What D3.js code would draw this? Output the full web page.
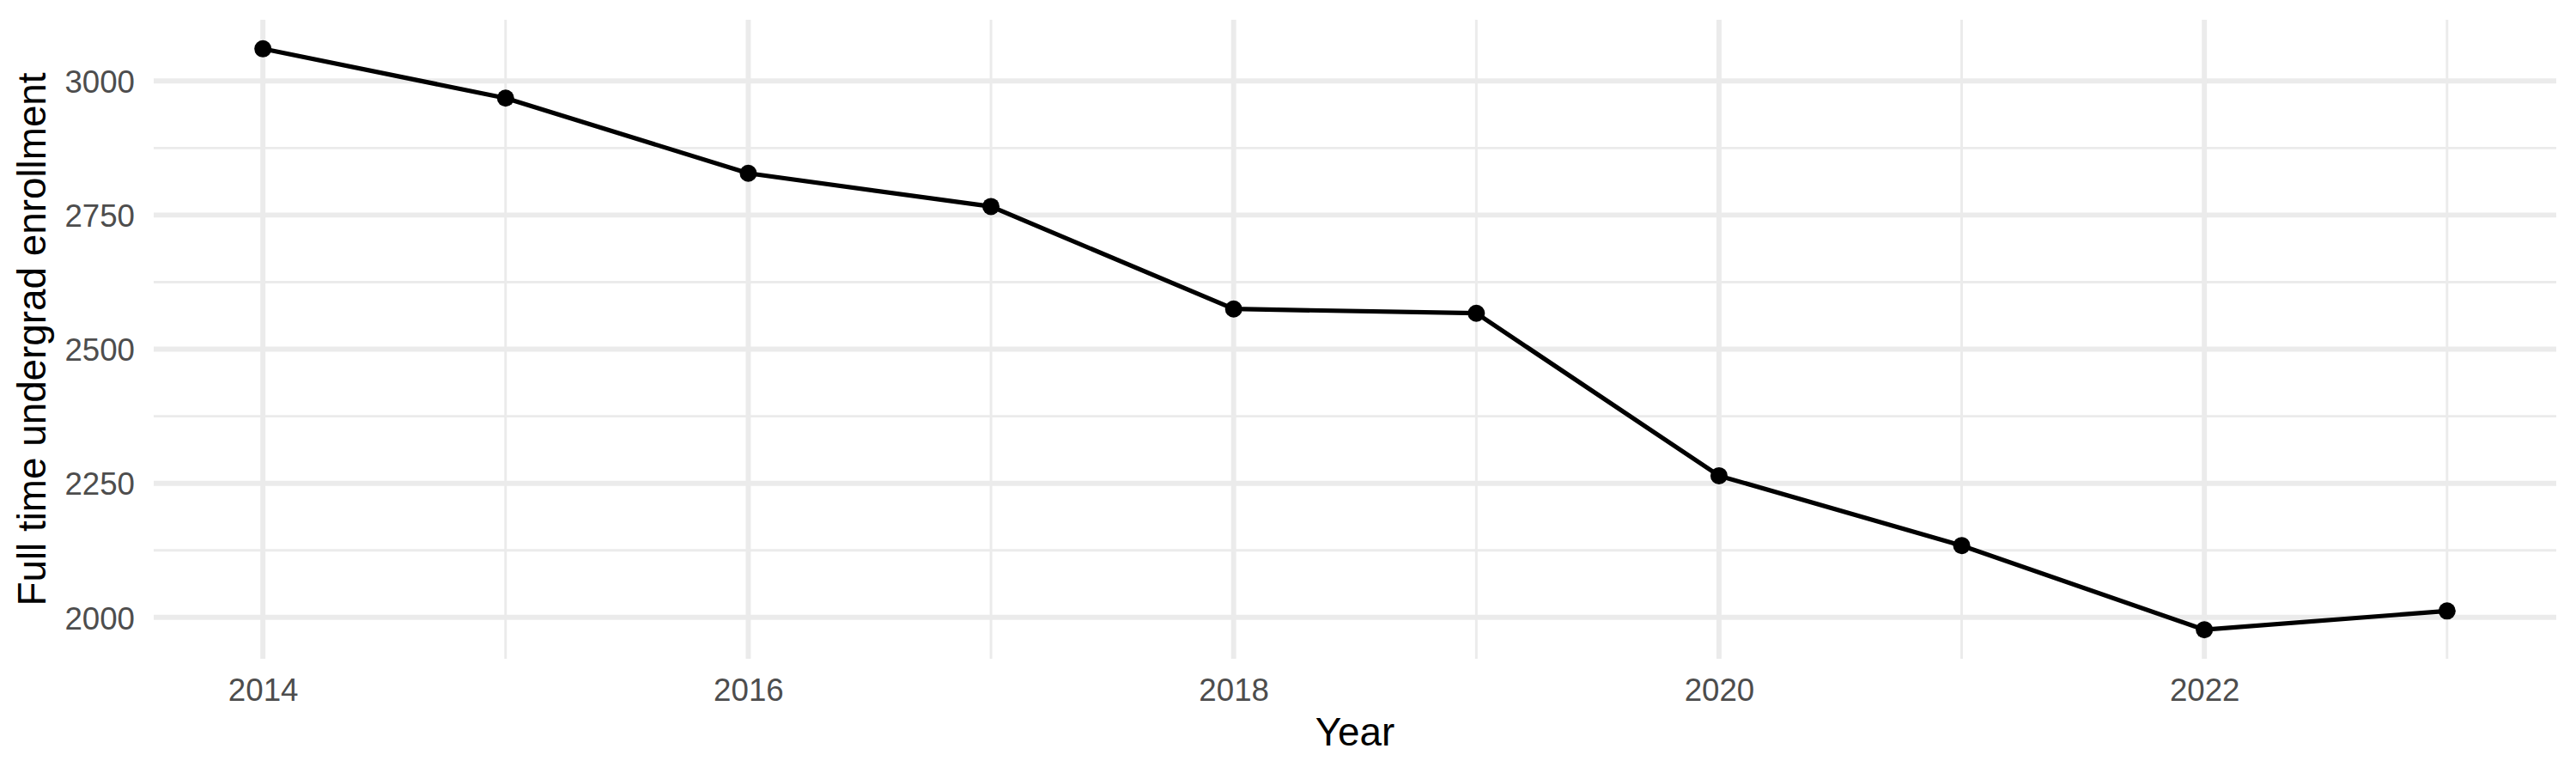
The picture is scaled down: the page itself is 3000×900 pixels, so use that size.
<!DOCTYPE html>
<html>
<head>
<meta charset="utf-8">
<script src="https://cdn.jsdelivr.net/npm/d3@7"></script>
<style>
  html, body { margin: 0; padding: 0; background: #ffffff; }
  svg { display: block; }
  text { font-family: "Liberation Sans", Arial, Helvetica, sans-serif; }
</style>
</head>
<body>
<svg id="chart" width="3000" height="900"></svg>
<script>
// ---- data ----
const years = [2014, 2015, 2016, 2017, 2018, 2019, 2020, 2021, 2022, 2023];
const enrollment = [3060, 2968, 2828, 2766, 2575, 2567, 2264, 2134, 1977, 2012];
const xTicks = [2014, 2016, 2018, 2020, 2022];
const xMinorTicks = [2015, 2017, 2019, 2021, 2023];
const yTicks = [2000, 2250, 2500, 2750, 3000];
const yMinorTicks = [2125, 2375, 2625, 2875];
const xTitle = "Year";
const yTitle = "Full time undergrad enrollment";

// ---- layout ----
const W = 3000, H = 900;
const panel = { left: 179, right: 2977, top: 23, bottom: 767 };

const svg = d3.select("#chart");

const xMin = d3.min(years), xMax = d3.max(years);
const xPad = (xMax - xMin) * 0.05;
const yMin = d3.min(enrollment), yMax = d3.max(enrollment);
const yPad = (yMax - yMin) * 0.05;

const x = d3.scaleLinear().domain([xMin - xPad, xMax + xPad]).range([panel.left, panel.right]);
const y = d3.scaleLinear().domain([yMin - yPad, yMax + yPad]).range([panel.bottom, panel.top]);

const gridColor = "#EBEBEB";
const majorW = 5.9, minorW = 2.95;

// minor grid
const grid = svg.append("g");
grid.selectAll("line.ymin").data(yMinorTicks).enter().append("line")
  .attr("x1", panel.left).attr("x2", panel.right)
  .attr("y1", d => y(d)).attr("y2", d => y(d))
  .attr("stroke", gridColor).attr("stroke-width", minorW);
grid.selectAll("line.xmin").data(xMinorTicks).enter().append("line")
  .attr("y1", panel.top).attr("y2", panel.bottom)
  .attr("x1", d => x(d)).attr("x2", d => x(d))
  .attr("stroke", gridColor).attr("stroke-width", minorW);
// major grid
grid.selectAll("line.ymaj").data(yTicks).enter().append("line")
  .attr("x1", panel.left).attr("x2", panel.right)
  .attr("y1", d => y(d)).attr("y2", d => y(d))
  .attr("stroke", gridColor).attr("stroke-width", majorW);
grid.selectAll("line.xmaj").data(xTicks).enter().append("line")
  .attr("y1", panel.top).attr("y2", panel.bottom)
  .attr("x1", d => x(d)).attr("x2", d => x(d))
  .attr("stroke", gridColor).attr("stroke-width", majorW);

// axes (labels only, via d3 axes)
const tickFont = 36.7;
const xAxis = d3.axisBottom(x).tickValues(xTicks).tickFormat(d3.format("d")).tickSize(0).tickPadding(0);
const gx = svg.append("g").attr("transform", `translate(0,${panel.bottom})`).call(xAxis);
gx.select(".domain").remove();
gx.selectAll("text").attr("font-size", tickFont).attr("fill", "#4D4D4D")
  .attr("dy", null).attr("y", 49).style("font-family", '"Liberation Sans", Arial, sans-serif');

const yAxis = d3.axisLeft(y).tickValues(yTicks).tickFormat(d3.format("d")).tickSize(0).tickPadding(22);
const gy = svg.append("g").attr("transform", `translate(${panel.left},0)`).call(yAxis);
gy.select(".domain").remove();
gy.selectAll("text").attr("font-size", tickFont).attr("fill", "#4D4D4D")
  .attr("dy", "0.36em").style("font-family", '"Liberation Sans", Arial, sans-serif');

// line + points
const line = d3.line().x((d, i) => x(years[i])).y(d => y(d));
svg.append("path").datum(enrollment)
  .attr("d", line).attr("fill", "none").attr("stroke", "#000000")
  .attr("stroke-width", 5.2).attr("stroke-linejoin", "round");
svg.append("g").selectAll("circle").data(enrollment).enter().append("circle")
  .attr("cx", (d, i) => x(years[i])).attr("cy", d => y(d))
  .attr("r", 10).attr("fill", "#000000");

// titles
const titleFont = 45.8;
svg.append("text").attr("x", (panel.left + panel.right) / 2).attr("y", 868)
  .attr("text-anchor", "middle").attr("font-size", titleFont).attr("fill", "#000000")
  .text(xTitle);
svg.append("text")
  .attr("transform", `translate(52.5,${(panel.top + panel.bottom) / 2}) rotate(-90)`)
  .attr("text-anchor", "middle").attr("font-size", titleFont).attr("fill", "#000000")
  .text(yTitle);
</script>
</body>
</html>
